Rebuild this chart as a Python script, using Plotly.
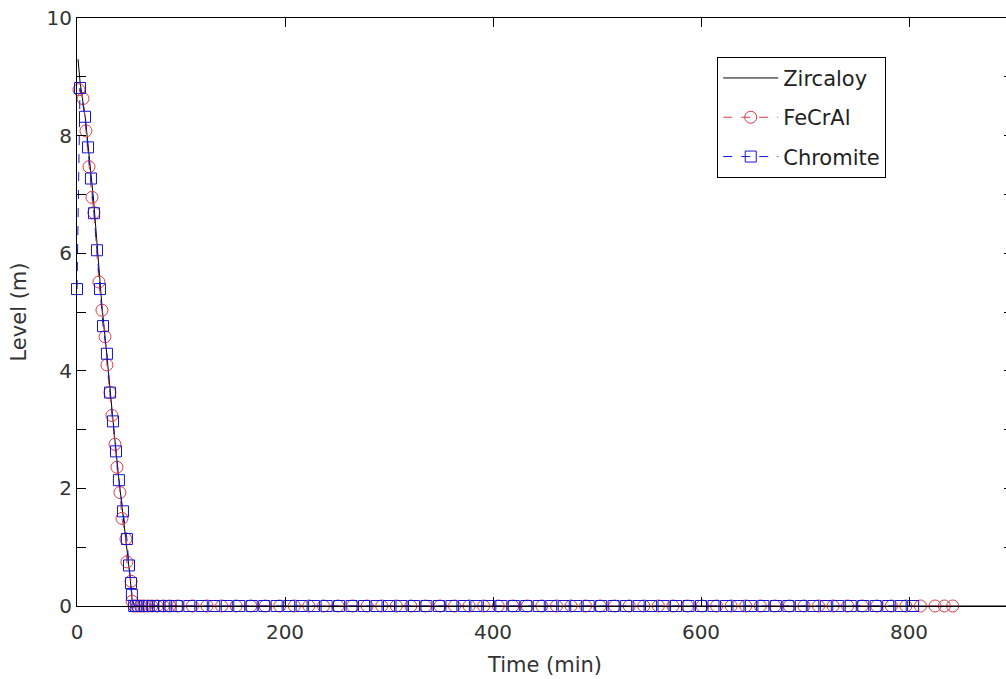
import plotly.graph_objects as go

# Water level vs time for three cladding types
zircaloy_t = [1, 3, 8, 12, 16, 20, 24, 28, 32, 36, 40, 44, 48, 51, 53, 56, 900]
zircaloy_level = [9.3, 8.9, 8.3, 7.6, 6.9, 6.0, 5.1, 4.4, 3.6, 2.9, 2.2, 1.6, 1.0, 0.5, 0.1, 0.0, 0.0]

fecral_t = [1.9, 5.8, 8.6, 11.5, 14.4, 16.3, 21.1, 24.0, 26.9, 28.8, 31.7, 33.6,
            36.5, 38.4, 41.3, 43.2, 47.1, 48.0, 52.0, 53.0,
            55, 58, 61, 64, 68, 72, 77, 83, 89, 97, 111, 125, 139, 153, 167, 181,
            195, 209, 223, 237, 251, 265, 279, 293, 307, 321, 335, 349, 363, 377,
            391, 405, 419, 433, 447, 461, 475, 489, 503, 517, 531, 545, 559, 573,
            587, 601, 615, 629, 643, 657, 671, 685, 699, 713, 727, 741, 755, 769,
            783, 797, 811, 825, 834, 842]
fecral_level = [8.78, 8.63, 8.08, 7.47, 6.95, 6.69, 5.51, 5.03, 4.58, 4.10, 3.63, 3.24,
                2.75, 2.36, 1.93, 1.49, 1.14, 0.75, 0.42, 0.08,
                0, 0, 0, 0, 0, 0, 0, 0, 0, 0, 0, 0, 0, 0, 0, 0,
                0, 0, 0, 0, 0, 0, 0, 0, 0, 0, 0, 0, 0, 0,
                0, 0, 0, 0, 0, 0, 0, 0, 0, 0, 0, 0, 0, 0,
                0, 0, 0, 0, 0, 0, 0, 0, 0, 0, 0, 0, 0, 0,
                0, 0, 0, 0, 0, 0]

chromite_t = [0, 2.9, 7.7, 10.6, 13.4, 16.3, 19.2, 22.1, 25.0, 28.8, 31.7, 34.6,
              37.5, 40.3, 44.2, 48.0, 50.0, 51.9, 52.8,
              55, 57, 59, 62, 65, 69, 73, 78, 84, 90, 96, 108, 120, 132, 144, 156,
              168, 180, 192, 204, 216, 228, 240, 252, 264, 276, 288, 300, 312, 324,
              336, 348, 360, 372, 384, 396, 408, 420, 432, 444, 456, 468, 480, 492,
              504, 516, 528, 540, 552, 564, 576, 588, 600, 612, 624, 636, 648, 660,
              672, 684, 696, 708, 720, 732, 744, 756, 768, 780, 792, 804, 813, 821]
chromite_level = [5.39, 8.81, 8.32, 7.80, 7.27, 6.68, 6.05, 5.39, 4.76, 4.29, 3.63, 3.14,
                  2.63, 2.14, 1.61, 1.14, 0.69, 0.39, 0.19,
                  0, 0, 0, 0, 0, 0, 0, 0, 0, 0, 0, 0, 0, 0, 0, 0,
                  0, 0, 0, 0, 0, 0, 0, 0, 0, 0, 0, 0, 0, 0,
                  0, 0, 0, 0, 0, 0, 0, 0, 0, 0, 0, 0, 0, 0,
                  0, 0, 0, 0, 0, 0, 0, 0, 0, 0, 0, 0, 0, 0,
                  0, 0, 0, 0, 0, 0, 0, 0, 0, 0, 0, 0]

x_ticks = [0, 200, 400, 600, 800]
y_ticks = [0, 2, 4, 6, 8, 10]

FONT = "DejaVu Sans"
RED = "#d83c46"
BLUE = "#1414d0"

fig = go.Figure()
fig.add_trace(go.Scatter(
    x=zircaloy_t, y=zircaloy_level, name="Zircaloy", mode="lines", legendgroup="z",
    line=dict(color="black", width=1), cliponaxis=False,
))
fig.add_trace(go.Scatter(
    x=fecral_t, y=fecral_level, name="FeCrAl", mode="lines+markers", legendgroup="f",
    line=dict(color=RED, width=1, dash="dash"), cliponaxis=False,
    marker=dict(symbol="circle-open", size=12, color=RED, line=dict(width=1, color=RED)),
))
fig.add_trace(go.Scatter(
    x=chromite_t, y=chromite_level, name="Chromite", mode="lines+markers", legendgroup="c",
    line=dict(color=BLUE, width=1, dash="dash"), cliponaxis=False,
    marker=dict(symbol="square-open", size=11, color=BLUE, line=dict(width=1, color=BLUE)),
))

axis_common = dict(
    showgrid=False, zeroline=False, showline=True, linecolor="black", linewidth=1,
    mirror="ticks", ticks="inside", ticklen=9, tickcolor="black",
    tickfont=dict(family=FONT, size=20, color="#333333"),
)
title_font = dict(family=FONT, size=21, color="#333333")

fig.update_layout(
    width=1020, height=679,
    margin=dict(l=77, r=6, t=18, b=71),
    paper_bgcolor="white", plot_bgcolor="white",
    font=dict(family=FONT, color="#333333"),
    showlegend=True,
    legend=dict(
        x=0.684, y=0.934, xanchor="left", yanchor="top",
        bgcolor="white", bordercolor="black", borderwidth=1,
        font=dict(family=FONT, size=21, color="#222222"),
        tracegroupgap=9, itemwidth=55,
    ),
    xaxis=dict(
        range=[0, 900], tickvals=x_ticks, ticklabelstandoff=8,
        title=dict(text="Time (min)", font=title_font, standoff=14),
        **axis_common,
    ),
    yaxis=dict(
        range=[0, 10], tickvals=y_ticks,
        minor=dict(dtick=1, ticks="inside", ticklen=9, tickcolor="black"),
        title=dict(text="Level (m)", font=title_font, standoff=14),
        **axis_common,
    ),
)

fig.write_html(
    "out.html",
    post_script="document.body.style.margin='0';document.body.style.overflow='hidden';",
)
